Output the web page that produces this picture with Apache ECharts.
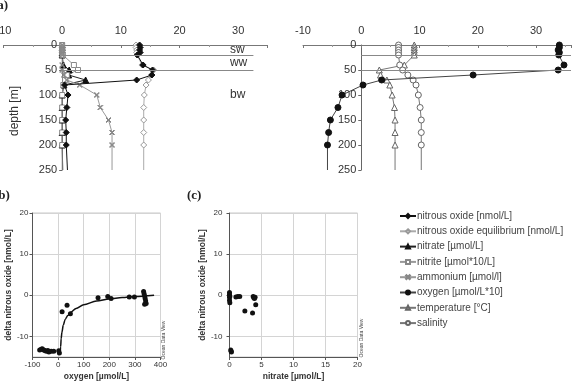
<!DOCTYPE html>
<html>
<head>
<meta charset="utf-8">
<script src="https://cdn.jsdelivr.net/npm/echarts@6.0.0/dist/echarts.min.js"></script>
<style>
  html, body { margin: 0; padding: 0; background: #fff; }
  #main { width: 573px; height: 386px; }
</style>
</head>
<body>
<div id="main"></div>
<script>
// depth profile sampling (m); last point only carries the line to the bottom
const depths = [0, 5, 10, 15, 20, 40, 50, 60, 70, 80, 100, 125, 150, 175, 200, 250];

// (a) left panel
const nitrousOxide = [13.2, 13.3, 13.2, 13.3, 12.8, 13.8, 15.4, 15.3, 12.7, 0.4, 1.0, 0.8, 0.6, 0.7, 0.7, 0.9];
const nitrousOxideEq = [12.6, 12.6, 12.7, 12.7, 12.8, 13.6, 15.6, 15.2, 14.7, 14.3, 14.0, 13.9, 13.9, 13.9, 13.9, 13.9];
const nitrate = [0, 0, 0, 0, 0, 0.2, 1.2, 1.1, 4.0, 0.3, 0, 0, 0, 0, 0, 0.1];
const nitrite = [0, 0, 0, 0, 0.1, 2.0, 2.7, 0.8, 0.5, 0.2, 0, 0, 0, 0, 0, 0];
const ammonium = [0, 0, 0, 0, 0, 0, 0, 0.3, 0.8, 3.0, 5.9, 6.5, 7.9, 8.5, 8.5, 8.5];

// (a) right panel
const oxygen = [34.0, 34.0, 33.8, 34.0, 33.9, 34.8, 33.8, 19.2, 3.5, 0.3, -3.3, -4.0, -5.3, -5.6, -5.8, -5.8];
const temperature = [9.1, 9.1, 9.1, 9.1, 9.1, 7.4, 3.1, 3.3, 4.4, 4.9, 5.3, 5.7, 5.8, 5.8, 5.8, 5.8];
const salinity = [6.4, 6.4, 6.4, 6.4, 6.4, 6.6, 7.1, 8.0, 8.9, 9.4, 9.8, 10.1, 10.3, 10.3, 10.3, 10.3];

// water mass boundaries and names
const layerBounds = [20, 50];
const zoneNames = ['sw', 'ww', 'bw'];
const zoneDepths = [10, 36, 100];

// (b) delta N2O vs oxygen
const bOxygen = [-72, -66, -62, -56, -52, -46, -40, -36, -27, -17, 2.5, 5, 15.6, 35, 48, 156, 194, 207, 278, 298, 334, 336, 338, 340, 342, 344, 338];
const bDelta = [-13.3, -13.1, -13.0, -13.3, -13.4, -13.6, -13.4, -13.8, -13.6, -13.6, -13.5, -14.0, -4.0, -2.4, -4.5, -0.6, -0.3, -0.8, -0.4, -0.4, 0.9, 0.4, -0.2, -0.8, -1.4, -2.0, -2.2];
const fitOxygen = [8, 10, 12, 15, 20, 28, 38, 50, 70, 100, 150, 200, 250, 300, 375];
const fitDelta = [-14, -12.5, -10.5, -9, -7.3, -5.8, -4.9, -4.1, -3.2, -2.3, -1.4, -0.9, -0.55, -0.3, 0];

// (c) delta N2O vs nitrate
const cNitrate = [0, 0, 0, 0, 0.05, 0.05, 1.0, 1.3, 1.6, 3.7, 3.8, 4.0, 3.9, 4.1, 2.4, 3.6, 0.2, 0.25, 0.3];
const cDelta = [0.7, 0.2, -0.5, -1.2, -1.8, -0.3, -0.4, -0.3, -0.3, -0.3, -0.6, -0.5, -0.8, -2.3, -3.8, -4.3, -13.3, -13.6, -13.8];

const deltaTicks = [-10, 0, 10, 20];

const FONT = 'Liberation Sans, Arial, sans-serif';
const crossSymbol = 'path://M0,1L1,0L5,4L9,0L10,1L6,5L10,9L9,10L5,6L1,10L0,9L4,5Z';

// profile panel frames: pixel box and x range
const panelA = [
  { left: 3.5, width: 264, min: -10, max: 35 },
  { left: 303, width: 268, min: -10, max: 36 },
];

// profile points: value first, depth second; no marker on the closing point
const profile = values =>
  depths.map((d, i) => (i === depths.length - 1 ? { value: [values[i], d], symbol: 'none' } : [values[i], d]));
const pairs = (xs, ys) => xs.map((x, i) => [x, ys[i]]);

const profileSeries = (name, values, axis, symbol, size, fill, stroke, lineColor) => ({
  name,
  type: 'line',
  xAxisIndex: axis,
  yAxisIndex: axis,
  data: profile(values),
  symbol,
  symbolSize: size,
  showAllSymbol: true,
  itemStyle: { color: fill, borderColor: stroke, borderWidth: 1 },
  lineStyle: { color: lineColor, width: 1 },
  emphasis: { disabled: true },
  z: 3,
});

const topAxis = index => ({
  gridIndex: index,
  type: 'value',
  position: 'top',
  min: panelA[index].min,
  max: panelA[index].max,
  interval: 10,
  axisLine: { onZero: false, lineStyle: { color: '#777' } },
  axisTick: { show: true, inside: true, length: 3, lineStyle: { color: '#777' } },
  minorTick: { show: true, splitNumber: 2, length: 2, lineStyle: { color: '#999' } },
  axisLabel: { fontFamily: FONT, fontSize: 11, color: '#333', margin: 9, showMaxLabel: false },
  splitLine: { show: false },
});

// depth axis sits on the x = 0 line of its panel
const depthAxis = index => {
  const p = panelA[index];
  return {
    gridIndex: index,
    type: 'value',
    position: 'left',
    inverse: true,
    min: 0,
    max: 250,
    interval: 50,
    offset: -((0 - p.min) / (p.max - p.min)) * p.width,
    axisLine: { show: true, onZero: false, lineStyle: { color: '#666' } },
    axisTick: { show: true, length: 3, lineStyle: { color: '#666' } },
    axisLabel: { show: true, fontFamily: FONT, fontSize: 11, color: '#333', margin: 5 },
    splitLine: { show: false },
  };
};

const boundaryLines = xEnd => ({
  silent: true,
  symbol: 'none',
  label: { show: false },
  lineStyle: { color: '#888', width: 1, type: 'solid' },
  data: layerBounds.map(d => [{ coord: [0, d] }, { coord: [xEnd, d] }]),
});

const scatterAxis = (index, min, max, interval, name, gap, margin) => ({
  gridIndex: index,
  type: 'value',
  min,
  max,
  interval,
  name,
  nameLocation: 'middle',
  nameGap: gap,
  nameTextStyle: { fontFamily: FONT, fontSize: 8.5, fontWeight: 'bold', color: '#333' },
  axisLine: { onZero: false, lineStyle: { color: '#555' } },
  axisTick: { length: 3, lineStyle: { color: '#555' } },
  axisLabel: { fontFamily: FONT, fontSize: 8, color: '#333', margin },
  splitLine: { show: true, lineStyle: { color: '#d4d4d4', width: 1 } },
});

const deltaAxis = (index, gap, margin) => ({
  gridIndex: index,
  type: 'value',
  min: -15,
  max: 20,
  name: 'delta nitrous oxide [nmol/L]',
  nameLocation: 'middle',
  nameGap: gap,
  nameTextStyle: { fontFamily: FONT, fontSize: 8.5, fontWeight: 'bold', color: '#333' },
  axisLine: { onZero: false, lineStyle: { color: '#555' } },
  axisTick: { length: 3, customValues: deltaTicks, lineStyle: { color: '#555' } },
  axisLabel: { fontFamily: FONT, fontSize: 8, color: '#333', margin, customValues: deltaTicks },
  splitLine: { show: true, lineStyle: { color: '#d4d4d4', width: 1 } },
});

const gridBase = { containLabel: false, outerBoundsMode: 'none' };

const option = {
  backgroundColor: '#fff',
  animation: false,
  grid: [
    Object.assign({ left: panelA[0].left, top: 45, width: panelA[0].width, height: 125 }, gridBase),
    Object.assign({ left: panelA[1].left, top: 45, width: panelA[1].width, height: 125 }, gridBase),
    Object.assign({ left: 32.5, top: 213, width: 128, height: 144, show: true, borderColor: '#c8c8c8', borderWidth: 1 }, gridBase),
    Object.assign({ left: 229.5, top: 213, width: 128, height: 144, show: true, borderColor: '#c8c8c8', borderWidth: 1 }, gridBase),
  ],
  xAxis: [
    topAxis(0),
    topAxis(1),
    scatterAxis(2, -100, 400, 100, 'oxygen [µmol/L]', 15, 4),
    scatterAxis(3, 0, 20, 5, 'nitrate [µmol/L]', 15, 4),
  ],
  yAxis: [
    depthAxis(0),
    depthAxis(1),
    deltaAxis(2, 19, 4),
    deltaAxis(3, 22, 7),
  ],
  legend: {
    orient: 'vertical',
    left: 399,
    top: 211,
    padding: 0,
    itemWidth: 16,
    itemHeight: 5,
    itemGap: 5.3,
    selectedMode: false,
    textStyle: { fontFamily: FONT, fontSize: 10, color: '#444', lineHeight: 10, padding: [0, 0, 0, -4] },
    data: [
      'nitrous oxide [nmol/L]',
      'nitrous oxide equilibrium [nmol/L]',
      'nitrate [µmol/L]',
      'nitrite [µmol*10/L]',
      'ammonium [µmol/l]',
      'oxygen [µmol/L*10]',
      'temperature [°C]',
      'salinity',
    ],
  },
  series: [
    Object.assign(
      profileSeries('nitrous oxide [nmol/L]', nitrousOxide, 0, 'diamond', 6, '#111', '#111', '#111'),
      { markLine: boundaryLines(32.6), z: 4 }
    ),
    profileSeries('nitrous oxide equilibrium [nmol/L]', nitrousOxideEq, 0, 'diamond', 6, '#fff', '#999', '#aaa'),
    profileSeries('nitrate [µmol/L]', nitrate, 0, 'triangle', 6, '#111', '#111', '#222'),
    profileSeries('nitrite [µmol*10/L]', nitrite, 0, 'rect', 5, '#fff', '#888', '#999'),
    profileSeries('ammonium [µmol/l]', ammonium, 0, crossSymbol, 5, '#888', '#888', '#999'),
    Object.assign(
      profileSeries('oxygen [µmol/L*10]', oxygen, 1, 'circle', 6, '#111', '#111', '#444'),
      { markLine: boundaryLines(36), z: 4 }
    ),
    profileSeries('temperature [°C]', temperature, 1, 'triangle', 6, '#fff', '#666', '#777'),
    profileSeries('salinity', salinity, 1, 'circle', 6, '#fff', '#666', '#777'),
    {
      name: 'delta vs oxygen',
      type: 'scatter',
      xAxisIndex: 2,
      yAxisIndex: 2,
      data: pairs(bOxygen, bDelta),
      symbolSize: 5,
      itemStyle: { color: '#111', opacity: 1 },
      z: 4,
    },
    {
      name: 'fit',
      type: 'line',
      xAxisIndex: 2,
      yAxisIndex: 2,
      data: pairs(fitOxygen, fitDelta),
      symbol: 'none',
      smooth: 0.3,
      smoothMonotone: 'x',
      lineStyle: { color: '#111', width: 1.5 },
      z: 3,
    },
    {
      name: 'delta vs nitrate',
      type: 'scatter',
      xAxisIndex: 3,
      yAxisIndex: 3,
      data: pairs(cNitrate, cDelta),
      symbolSize: 5,
      itemStyle: { color: '#111', opacity: 1 },
      z: 4,
    },
  ],
  graphic: [
    { id: 'la', type: 'text', left: -7, top: -1, style: { text: '(a)', font: 'bold 13px Liberation Serif, serif', fill: '#222' } },
    { id: 'lb', type: 'text', left: -6, top: 189, style: { text: '(b)', font: 'bold 13px Liberation Serif, serif', fill: '#222' } },
    { id: 'lc', type: 'text', left: 187, top: 189, style: { text: '(c)', font: 'bold 13px Liberation Serif, serif', fill: '#222' } },
    {
      id: 'depthName', type: 'text', x: 15, y: 111, rotation: Math.PI / 2,
      style: { text: 'depth [m]', font: '12px ' + FONT, fill: '#333', align: 'center', verticalAlign: 'middle' },
    },
    {
      id: 'odvB', type: 'text', x: 164, y: 340, rotation: Math.PI / 2,
      style: { text: 'Ocean Data View', font: '5px ' + FONT, fill: '#444', align: 'center', verticalAlign: 'middle' },
    },
    {
      id: 'odvC', type: 'text', x: 362, y: 338, rotation: Math.PI / 2,
      style: { text: 'Ocean Data View', font: '5px ' + FONT, fill: '#444', align: 'center', verticalAlign: 'middle' },
    },
  ],
};

const chart = echarts.init(document.getElementById('main'));
chart.setOption(option);

// water mass names placed beside the layers of the left profile panel
chart.setOption({
  graphic: {
    elements: zoneNames.map((n, i) => {
      const [x, y] = chart.convertToPixel({ gridIndex: 0 }, [28.6, zoneDepths[i]]);
      return {
        id: 'zone-' + n, type: 'text', x, y,
        style: { text: n, font: '12px ' + FONT, fill: '#333', verticalAlign: 'middle' },
      };
    }),
  },
});
</script>
</body>
</html>
